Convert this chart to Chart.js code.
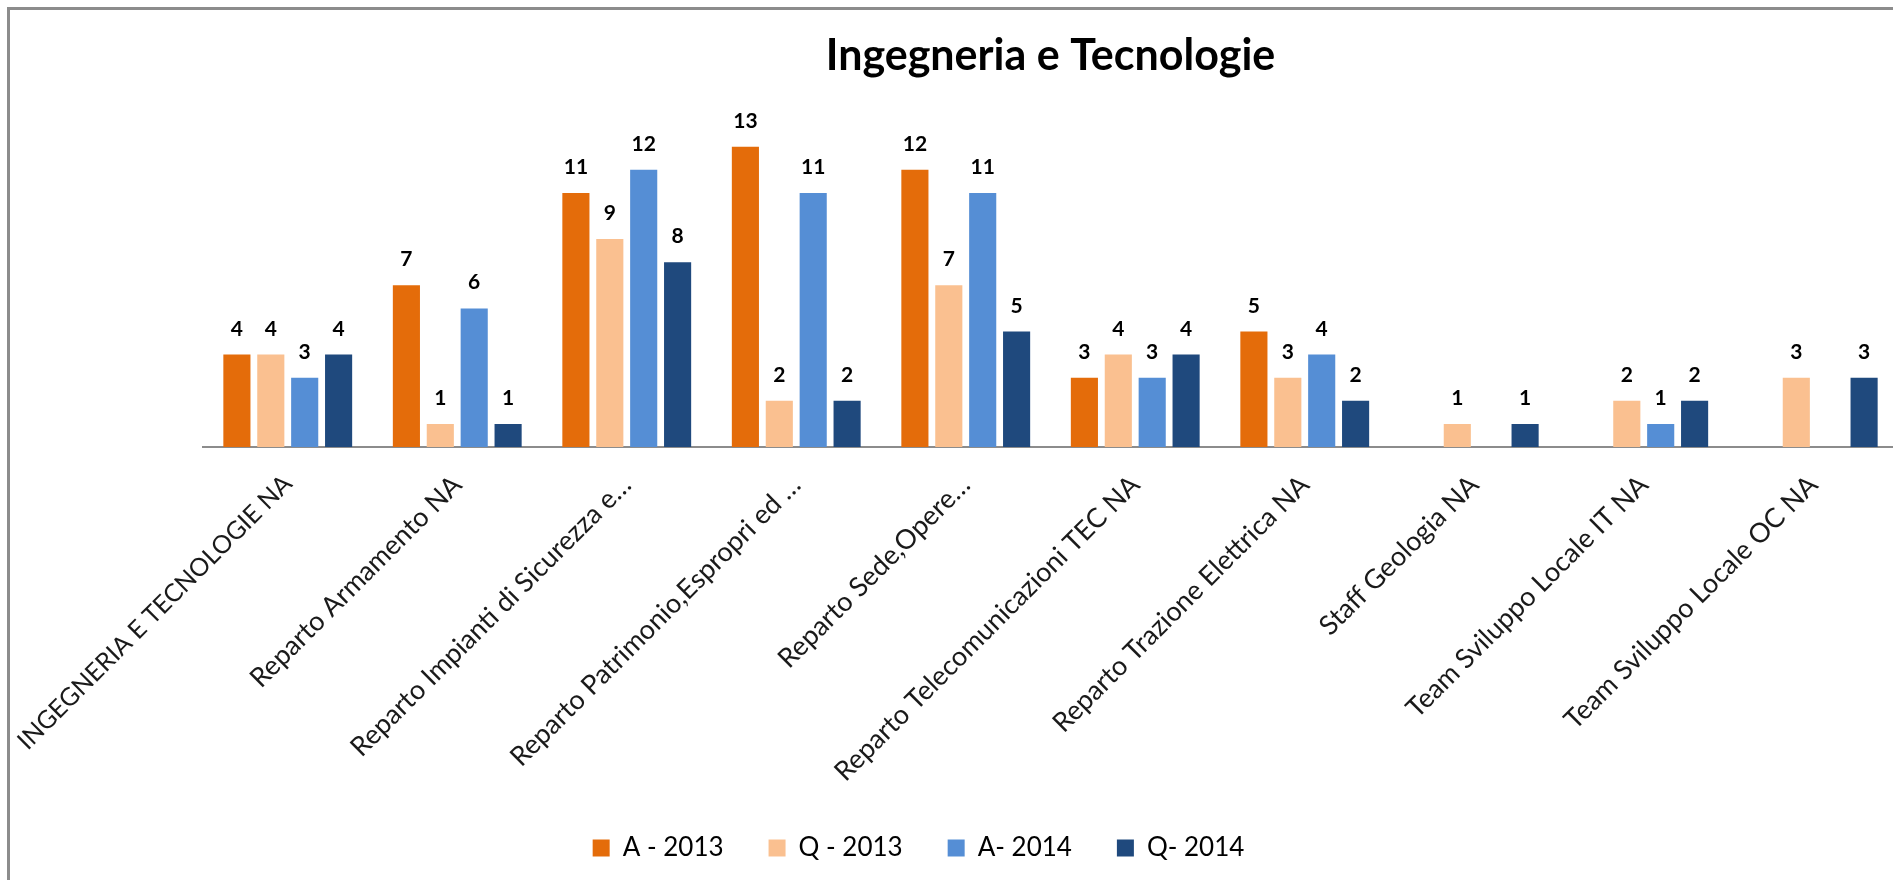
<!DOCTYPE html>
<html>
<head>
<meta charset="utf-8">
<title>Ingegneria e Tecnologie</title>
<script src="https://cdn.jsdelivr.net/npm/chart.js@4.4.1/dist/chart.umd.min.js"></script>
<style>
  html, body { margin: 0; padding: 0; background: #fff; overflow: hidden; width: 1893px; height: 880px; }
  #chartBox { position: absolute; left: -61px; top: 0; width: 1959px; height: 880px; }
  #frame { position: absolute; left: 7px; top: 7px; width: 3000px; height: 2000px;
           border-left: 3px solid #8c8c8c; border-top: 3px solid #8c8c8c; pointer-events: none; }
</style>
</head>
<body>
<div id="chartBox"><canvas id="uffici" width="1959" height="880"></canvas></div>
<div id="frame"></div>
<script>
// dati
const categorie = [
  'INGEGNERIA E TECNOLOGIE NA',
  'Reparto Armamento NA',
  'Reparto Impianti di Sicurezza e…',
  'Reparto Patrimonio,Espropri ed …',
  'Reparto Sede,Opere…',
  'Reparto Telecomunicazioni TEC NA',
  'Reparto Trazione Elettrica NA',
  'Staff Geologia NA',
  'Team Sviluppo Locale IT NA',
  'Team Sviluppo Locale OC NA'
];
const serie = ['A - 2013', 'Q - 2013', 'A- 2014', 'Q- 2014'];
const a2013 = [4, 7, 11, 13, 12, 3, 5, null, null, null];
const q2013 = [4, 1, 9, 2, 7, 4, 3, 1, 2, 3];
const a2014 = [3, 6, 12, 11, 11, 3, 4, null, 1, null];
const q2014 = [4, 1, 8, 2, 5, 4, 2, 1, 2, 3];
const colori = ['#E46C0A', '#FAC090', '#558ED5', '#1F497D'];

const FONT = 'Lato, "Open Sans", sans-serif';

// etichette con il valore sopra ogni barra
const valueLabels = {
  id: 'valueLabels',
  afterDatasetsDraw(chart) {
    const ctx = chart.ctx;
    ctx.save();
    ctx.font = 'bold 21px ' + FONT;
    ctx.fillStyle = '#000';
    ctx.textAlign = 'center';
    ctx.textBaseline = 'alphabetic';
    chart.data.datasets.forEach((ds, i) => {
      chart.getDatasetMeta(i).data.forEach((bar, j) => {
        const v = ds.data[j];
        if (v === null || v === undefined) return;
        ctx.fillText(String(v), bar.x, bar.y - 19);
      });
    });
    ctx.restore();
  }
};

const valori = [a2013, q2013, a2014, q2014];

new Chart(document.getElementById('uffici'), {
  type: 'bar',
  data: {
    labels: categorie,
    datasets: serie.map((nome, i) => ({
      label: nome,
      data: valori[i],
      backgroundColor: colori[i],
      borderWidth: 0,
      categoryPercentage: 0.8,
      barPercentage: 0.8
    }))
  },
  options: {
    responsive: false,
    animation: false,
    layout: { padding: { left: 0, right: 0, top: 0, bottom: 9 } },
    scales: {
      x: {
        grid: { display: false, drawTicks: false },
        border: { display: true, color: '#8c8c8c', width: 2 },
        ticks: {
          autoSkip: false,
          minRotation: 45,
          maxRotation: 45,
          padding: 22,
          color: '#1a1a1a',
          // il maiuscolo di Lato e' piu' largo: prima etichetta un po' piu' piccola
          font: c => ({ family: FONT, size: c.index === 0 ? 25 : 27 })
        },
        afterFit: s => { s.height = 343; }
      },
      y: {
        min: 0,
        max: 14,
        grid: { display: false },
        border: { display: false },
        ticks: { display: false },
        afterFit: s => { s.width = 264; }
      }
    },
    plugins: {
      title: {
        display: true,
        text: 'Ingegneria e Tecnologie',
        fullSize: false,
        color: '#000',
        font: { family: FONT, size: 43, weight: 'bold' },
        padding: { top: 30, bottom: 42 }
      },
      legend: {
        position: 'bottom',
        labels: {
          color: '#000',
          font: { family: FONT, size: 26 },
          boxWidth: 17,
          boxHeight: 17,
          padding: 45
        }
      },
      tooltip: { enabled: false }
    }
  },
  plugins: [valueLabels]
});
</script>
</body>
</html>
